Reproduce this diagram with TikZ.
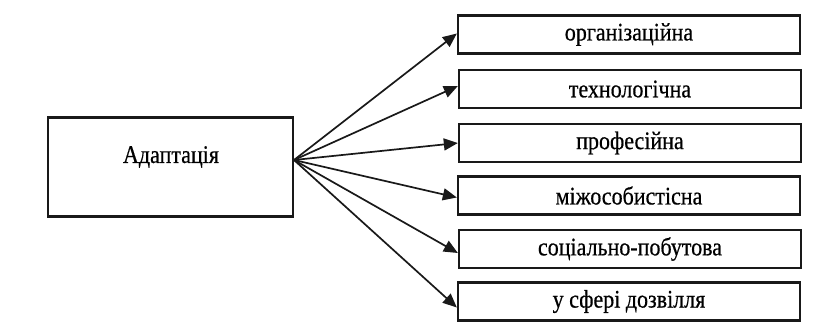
\documentclass[tikz,border=0pt]{standalone}
\usepackage{fontspec}
\setmainfont{Liberation Serif}
\newfontfamily\scanfont[FakeBold=0.6]{Liberation Serif}
\usetikzlibrary{arrows.meta}
\newcommand{\tallt}[1]{\scalebox{1}[1.15]{\scanfont #1}}
\begin{document}
\begin{tikzpicture}[x=1pt,y=-1pt,
  box/.style={draw=black!90,line width=2.3pt,rectangle,inner sep=0pt,
    minimum width=342pt,minimum height=38pt,font=\fontsize{22}{25}\selectfont},
  mainbox/.style={draw=black!90,line width=2.3pt,rectangle,inner sep=0pt,
    minimum width=245pt,minimum height=99pt},
  lbl/.style={font=\fontsize{22}{25}\selectfont,inner sep=0pt},
  arr/.style={line width=1.7pt,draw=black!90,-{Triangle[length=14pt,width=12pt]}}]
\fill[white] (0,0) rectangle (814,327);
\useasboundingbox (0,0) rectangle (814,327);
\node[mainbox] (a) at (170.5,167) {};
\node[lbl] (at) at (171,157) {\tallt{Адаптація}};
\node[box] (b1) at (629,34.5) {\tallt{організаційна}};
\node[box] (b2) at (630,89) {\tallt{технологічна}};
\node[box] (b3) at (630,143) {\tallt{професійна}};
\node[box] (b4) at (629,195.5) {\tallt{міжособистісна}};
\node[box] (b5) at (630,249) {\tallt{соціально-побутова}};
\node[box] (b6) at (629,301.5) {\tallt{у сфері дозвілля}};
\coordinate (o) at (294,160);
\draw[arr] (o) -- ([yshift=1pt]b1.west);
\draw[arr] (o) -- ([yshift=3pt]b2.west);
\draw[arr] (o) -- (b3.west);
\draw[arr] (o) -- ([yshift=-2pt]b4.west);
\draw[arr] (o) -- ([yshift=-4pt]b5.west);
\draw[arr] (o) -- ([yshift=-6pt]b6.west);
\end{tikzpicture}
\end{document}
